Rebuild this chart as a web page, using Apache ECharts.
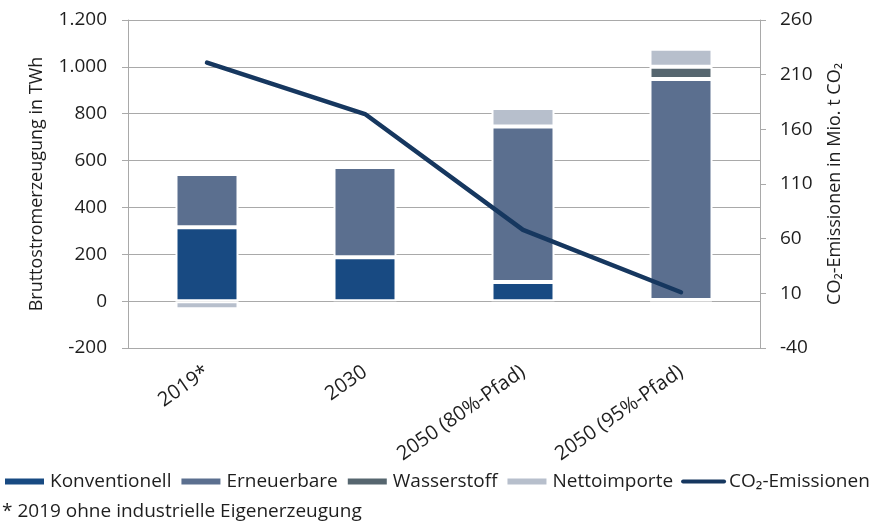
<!DOCTYPE html>
<html>
<head>
<meta charset="utf-8">
<script src="https://cdn.jsdelivr.net/npm/echarts@6/dist/echarts.min.js"></script>
<style>
  html, body { margin: 0; padding: 0; background: #ffffff; }
  #chart { width: 872px; height: 525px; }
</style>
</head>
<body>
<div id="chart"></div>
<script>
// Gross electricity generation by source (TWh) and CO2 emissions (Mio. t)
const categories = ['2019*', '2030', '2050 (80%-Pfad)', '2050 (95%-Pfad)'];
const konventionell = [315, 187, 82, 5];
const erneuerbare = [228, 386, 663, 943];
const wasserstoff = [0, 0, 0, 52];
const nettoimporte = [-35, 0, 79, 77];
const co2Emissionen = [221, 174, 68, 11];

// Axis ranges and tick values
const leftMin = -200, leftMax = 1200, leftStep = 200;
const rightTicks = [-40, 10, 60, 110, 160, 210, 260];

const FONT = '"Open Sans", "Noto Sans", sans-serif';
const TEXT = '#1e1e1e';
const GRID_GREY = '#a9a9a9';

const colors = {
  konv: '#184a82',
  ern: '#5b6f8f',
  wass: '#56666f',
  netto: '#b7bfcc',
  co2: '#16375f'
};

function fmtThousands(v) {
  const s = String(Math.abs(v)).replace(/\B(?=(\d{3})+(?!\d))/g, '.');
  return (v < 0 ? '-' : '') + s;
}

const barBase = {
  type: 'bar',
  stack: 'strom',
  barWidth: 63,
  yAxisIndex: 0,
  itemStyle: { borderColor: '#ffffff', borderWidth: 2 },
  emphasis: { disabled: true }
};

function barSeries(name, data, color) {
  return Object.assign({}, barBase, {
    name: name,
    data: data,
    itemStyle: Object.assign({}, barBase.itemStyle, { color: color })
  });
}

const chart = echarts.init(document.getElementById('chart'), null, { renderer: 'canvas' });

chart.setOption({
  animation: false,
  textStyle: { fontFamily: FONT, color: TEXT },
  title: {
    text: '* 2019 ohne industrielle Eigenerzeugung',
    left: 2,
    top: 502,
    padding: 0,
    textStyle: { fontFamily: FONT, fontSize: 19, fontWeight: 'normal', color: TEXT }
  },
  legend: {
    left: 3,
    top: 472,
    width: 900,
    padding: 0,
    itemWidth: 41,
    itemHeight: 8,
    itemGap: 8,
    textStyle: { fontFamily: FONT, fontSize: 19, color: TEXT },
    data: [
      { name: 'Konventionell', icon: 'rect' },
      { name: 'Erneuerbare', icon: 'rect' },
      { name: 'Wasserstoff', icon: 'rect' },
      { name: 'Nettoimporte', icon: 'rect' },
      {
        name: 'CO\u2082-Emissionen',
        lineStyle: { width: 4, cap: 'round', color: colors.co2 },
        itemStyle: { color: 'rgba(0,0,0,0)', borderWidth: 0, opacity: 0 }
      }
    ]
  },
  grid: { left: 128, right: 112, top: 20, bottom: 177 },
  xAxis: {
    type: 'category',
    data: categories,
    axisLine: { onZero: false, lineStyle: { color: GRID_GREY, width: 1 } },
    axisTick: { show: false },
    axisLabel: {
      interval: 0,
      rotate: 35,
      margin: 22,
      fontFamily: FONT,
      fontSize: 20,
      color: TEXT
    }
  },
  yAxis: [
    {
      type: 'value',
      min: leftMin,
      max: leftMax,
      interval: leftStep,
      name: 'Bruttostromerzeugung in TWh',
      nameLocation: 'middle',
      nameRotate: 90,
      nameGap: 82,
      nameTextStyle: { fontFamily: FONT, fontSize: 18, color: TEXT },
      axisLine: { show: true, lineStyle: { color: GRID_GREY, width: 1 } },
      axisTick: { show: true, length: 6, lineStyle: { color: GRID_GREY } },
      axisLabel: {
        margin: 21,
        fontFamily: FONT,
        fontSize: 19,
        color: TEXT,
        formatter: fmtThousands
      },
      splitLine: { show: true, lineStyle: { color: GRID_GREY, width: 1 } }
    },
    {
      type: 'value',
      position: 'right',
      min: rightTicks[0],
      max: rightTicks[rightTicks.length - 1],
      name: 'CO\u2082-Emissionen in Mio. t CO\u2082',
      nameLocation: 'middle',
      nameRotate: 90,
      nameGap: 66,
      nameTextStyle: { fontFamily: FONT, fontSize: 18, color: TEXT },
      axisLine: { show: true, lineStyle: { color: GRID_GREY, width: 1 } },
      axisTick: { show: true, length: 6, customValues: rightTicks, lineStyle: { color: GRID_GREY } },
      axisLabel: {
        margin: 20,
        fontFamily: FONT,
        fontSize: 19,
        color: TEXT,
        customValues: rightTicks
      },
      splitLine: { show: false }
    }
  ],
  series: [
    barSeries('Konventionell', konventionell, colors.konv),
    barSeries('Erneuerbare', erneuerbare, colors.ern),
    barSeries('Wasserstoff', wasserstoff, colors.wass),
    barSeries('Nettoimporte', nettoimporte, colors.netto),
    {
      name: 'CO\u2082-Emissionen',
      type: 'line',
      yAxisIndex: 1,
      data: co2Emissionen,
      symbol: 'none',
      lineStyle: { color: colors.co2, width: 4.5, cap: 'round', join: 'round' },
      itemStyle: { color: colors.co2 },
      emphasis: { disabled: true },
      z: 5
    }
  ]
});
</script>
</body>
</html>
